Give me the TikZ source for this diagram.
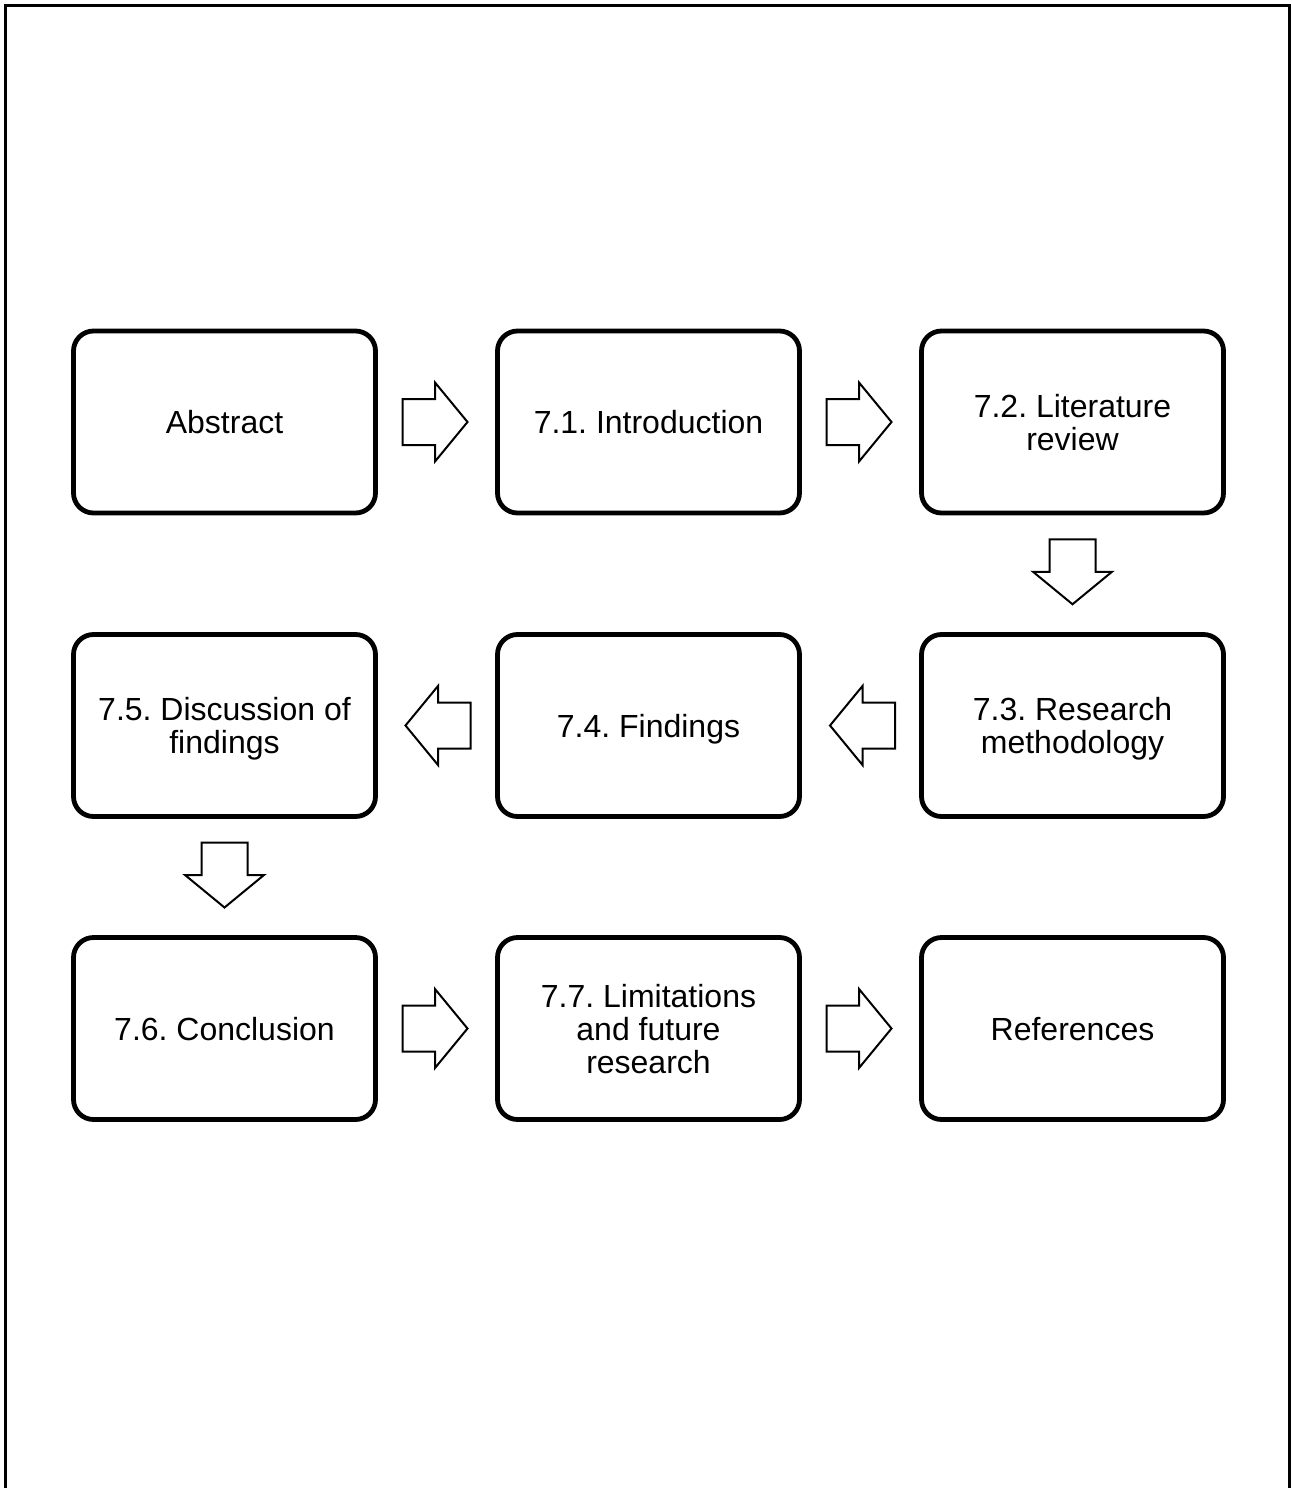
\documentclass[tikz,border=0pt]{standalone}
\usepackage{fontspec}
\setmainfont{Liberation Sans}
\usetikzlibrary{calc}
\tikzset{
  stage/.style={draw=black, line width=4.8pt, rounded corners=20pt,
    minimum width=302pt, minimum height=182pt, align=center,
    font=\frenchspacing\fontsize{32}{33}\selectfont, inner sep=0pt, fill=white,
    text depth=0pt},
  blockarrow/.pic={
    \draw[line width=2pt, line join=miter, fill=white]
      (-32.5,-23) -- (0,-23) -- (0,-39.5) -- (32.5,0) -- (0,39.5) -- (0,23) -- (-32.5,23) -- cycle;
  }
}
\begin{document}
\begin{tikzpicture}[x=1pt,y=-1pt]
\useasboundingbox (0,0) rectangle (1291,1488);
\clip (0,0) rectangle (1291,1488);
\fill[white] (0,0) rectangle (1291,1488);
\draw[line width=2.7pt] (5.3,5.3) rectangle (1289.3,1520);

\node[stage] (abs) at (224.5,422) {Abstract};
\node[stage] (intro) at (648.5,422) {7.1. Introduction};
\node[stage] (lit) at (1072.5,422) {7.2. Literature\\review};
\node[stage] (meth) at (1072.5,725.5) {7.3. Research\\methodology};
\node[stage] (find) at (648.5,725.5) {7.4. Findings};
\node[stage] (disc) at (224.5,725.5) {7.5. Discussion of\\findings};
\node[stage] (conc) at (224.5,1028.5) {7.6. Conclusion};
\node[stage] (lim) at (648.5,1028.5) {7.7. Limitations\\and future\\research};
\node[stage] (ref) at (1072.5,1028.5) {References};

\pic at ($(abs.east)!0.5!(intro.west)+(-1.5,0)$) {blockarrow};
\pic at ($(intro.east)!0.5!(lit.west)+(-1.5,0)$) {blockarrow};
\pic[rotate=-90] at ($(lit.south)!0.5!(meth.north)+(0,-2)$) {blockarrow};
\pic[rotate=180] at ($(meth.west)!0.5!(find.east)+(2,0)$) {blockarrow};
\pic[rotate=180] at ($(find.west)!0.5!(disc.east)+(1.5,0)$) {blockarrow};
\pic[rotate=-90] at ($(disc.south)!0.5!(conc.north)+(0,-2)$) {blockarrow};
\pic at ($(conc.east)!0.5!(lim.west)+(-1.5,0)$) {blockarrow};
\pic at ($(lim.east)!0.5!(ref.west)+(-1.5,0)$) {blockarrow};
\end{tikzpicture}
\end{document}
